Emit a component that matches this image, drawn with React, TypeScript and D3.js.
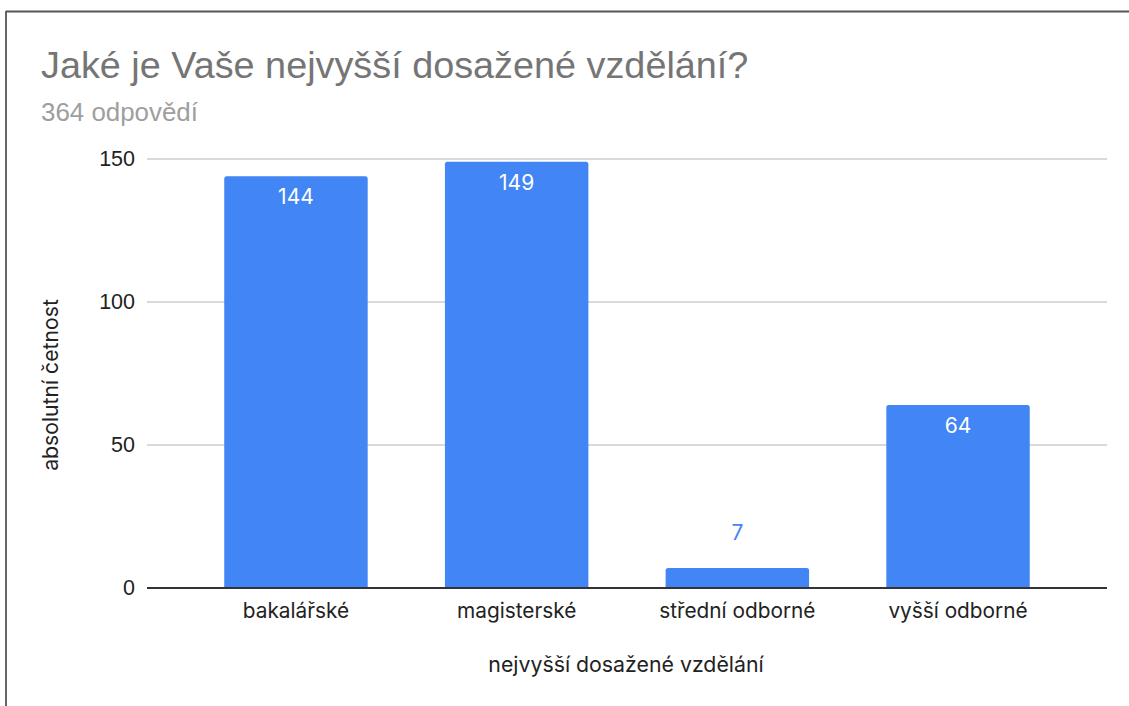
import * as d3 from "d3";

const categories = ["bakalářské", "magisterské", "střední odborné", "vyšší odborné"];
const counts = [144, 149, 7, 64];
const yTicks = [0, 50, 100, 150];

const W = 1129;
const H = 706;
const BLUE = "#4285f4";
const SANS = "Arial, 'Liberation Sans', sans-serif";
const UI = "Inter, Roboto, Arial, sans-serif";

export default function App() {
  const x = d3.scaleBand<string>().domain(categories).range([147, 1107]).padding(0.35);
  const y = d3.scaleLinear().domain([0, 150]).range([588, 159]);

  // rounded top corners only
  const barPath = (x0: number, y0: number, w: number, h: number, r = 2.5) =>
    `M${x0},${y0 + h}V${y0 + r}Q${x0},${y0} ${x0 + r},${y0}H${x0 + w - r}Q${x0 + w},${y0} ${x0 + w},${y0 + r}V${y0 + h}Z`;

  return (
    <>
      <style>{`body{margin:0}`}</style>
      <svg width={W} height={H} style={{ display: "block", background: "#fff" }}>
        {/* frame */}
        <line x1={6} x2={6} y1={11} y2={H} stroke="#333" strokeWidth={1.5} />
        <line x1={6} x2={W} y1={11.5} y2={11.5} stroke="#555" strokeWidth={2} />

        <text x={41} y={78} fontFamily={SANS} fontSize={37.8} fill="#757575">
          Jaké je Vaše nejvyšší dosažené vzdělání?
        </text>
        <text x={41} y={121} fontFamily={SANS} fontSize={25.9} fill="#9e9e9e">
          364 odpovědí
        </text>

        {/* grid */}
        {yTicks.map((t) => (
          <g key={t}>
            {t !== 0 && (
              <line x1={147} x2={1107} y1={y(t)} y2={y(t)} stroke="#cccccc" strokeWidth={1.3} />
            )}
            <text x={135} y={y(t) + 7} textAnchor="end" fontFamily={SANS} fontSize={21.5} fill="#222">
              {t}
            </text>
          </g>
        ))}

        {/* bars */}
        {categories.map((c, i) => {
          const v = counts[i];
          const bx = x(c)!;
          const by = y(v);
          const inside = y(0) - by > 40;
          return (
            <g key={c}>
              <path d={barPath(bx, by, x.bandwidth(), y(0) - by)} fill={BLUE} />
              <text
                x={bx + x.bandwidth() / 2}
                y={inside ? by + 28 : by - 28}
                textAnchor="middle"
                fontFamily={UI}
                fontSize={21}
                fill={inside ? "#ffffff" : BLUE}
              >
                {v}
              </text>
              <text x={bx + x.bandwidth() / 2} y={618} textAnchor="middle" fontFamily={UI} fontSize={20.8} fill="#222">
                {c}
              </text>
            </g>
          );
        })}

        <line x1={147} x2={1107} y1={y(0)} y2={y(0)} stroke="#333" strokeWidth={2} />

        <text x={626} y={672} textAnchor="middle" fontFamily={UI} fontSize={21.3} fill="#222">
          nejvyšší dosažené vzdělání
        </text>
        <text
          transform={`translate(58,385) rotate(-90)`}
          textAnchor="middle"
          fontFamily={UI}
          fontSize={21.2}
          fill="#222"
        >
          absolutní četnost
        </text>
      </svg>
    </>
  );
}
